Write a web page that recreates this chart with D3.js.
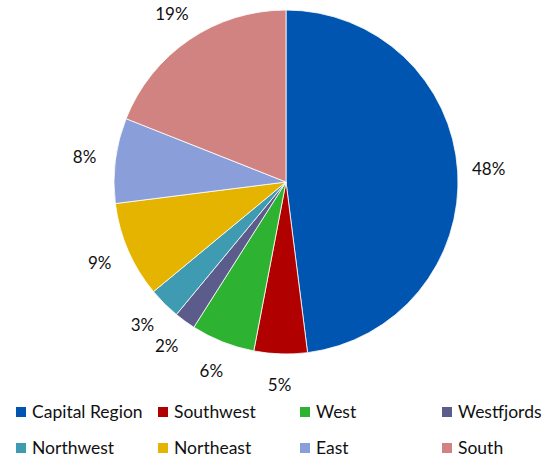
<!DOCTYPE html>
<html>
<head>
<meta charset="utf-8">
<script src="https://cdn.jsdelivr.net/npm/d3@7"></script>
<style>
  html, body { margin: 0; padding: 0; background: #fff; }
  svg { display: block; }
  text { font-family: Lato, "Open Sans", sans-serif; fill: #111; }
</style>
</head>
<body>
<svg id="chart" width="548" height="457"></svg>
<script>
// Regional shares (%)
const regions = ["Capital Region", "Southwest", "West", "Westfjords",
                 "Northwest", "Northeast", "East", "South"];
const shares = [48, 5, 6, 2, 3, 9, 8, 19];
const colors = ["#0055B0", "#B00000", "#2DB232", "#5B5B8C",
                "#3F9BB1", "#E5B400", "#8A9FD9", "#D08381"];

const svg = d3.select("#chart");
const cx = 286, cy = 182, radius = 172, labelRadius = 203;

const data = regions.map((name, i) => ({ name, value: shares[i], color: colors[i] }));

const pie = d3.pie().value(d => d.value).sort(null);
const arc = d3.arc().innerRadius(0).outerRadius(radius);
const labelArc = d3.arc().innerRadius(labelRadius).outerRadius(labelRadius);

const g = svg.append("g").attr("transform", `translate(${cx},${cy})`);
const arcs = pie(data);

g.selectAll("path.slice")
  .data(arcs)
  .join("path")
  .attr("class", "slice")
  .attr("d", arc)
  .attr("fill", d => d.data.color)
  .attr("stroke", "#fff")
  .attr("stroke-width", 0.8);

g.selectAll("text.pct")
  .data(arcs)
  .join("text")
  .attr("class", "pct")
  .attr("transform", d => `translate(${labelArc.centroid(d)})`)
  .attr("text-anchor", "middle")
  .attr("dy", "0.35em")
  .style("font-size", "17px")
  .text(d => `${d.data.value}%`);

// Legend: 4 columns x 2 rows
const colX = d3.scalePoint().domain([0, 1, 2, 3]).range([16, 442]);
const rowY = d3.scalePoint().domain([0, 1]).range([412, 448]);

const legend = svg.append("g")
  .selectAll("g")
  .data(data)
  .join("g")
  .attr("transform", (d, i) => `translate(${colX(i % 4)},${rowY(Math.floor(i / 4))})`);

legend.append("rect")
  .attr("x", 0).attr("y", -5)
  .attr("width", 10).attr("height", 10)
  .attr("fill", d => d.color);

legend.append("text")
  .attr("x", 16)
  .attr("dy", "0.35em")
  .style("font-size", "17.5px")
  .text(d => d.name);
</script>
</body>
</html>
